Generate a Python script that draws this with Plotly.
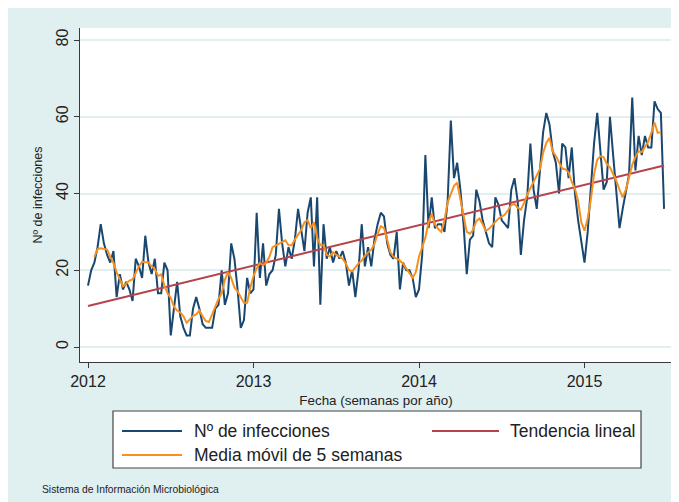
import plotly.graph_objects as go

# ---------------- data ----------------
start_year = 2012
weeks_per_year = 52

# Weekly number of infections, 2012 week 1 onward
infecciones = [16, 20, 22, 26, 32, 27, 24, 22, 25, 13,
               19, 15, 17, 15, 12, 23, 21, 18, 29, 22,
               19, 23, 14, 14, 22, 20, 3, 10, 17, 8,
               5, 3, 3, 10, 13, 10, 6, 5, 5, 5,
               10, 11, 20, 11, 14, 27, 23, 15, 5, 7,
               18, 14, 15, 35, 18, 27, 16, 19, 20, 24,
               36, 27, 21, 26, 23, 28, 36, 30, 25, 35,
               39, 21, 39, 11, 32, 23, 26, 22, 25, 23,
               25, 22, 16, 20, 13, 20, 32, 21, 26, 21,
               28, 32, 35, 34, 27, 24, 23, 30, 15, 22,
               20, 20, 18, 13, 15, 24, 50, 31, 39, 31,
               32, 32, 30, 38, 59, 44, 48, 41, 32, 19,
               28, 29, 41, 38, 33, 30, 27, 26, 39, 37,
               33, 32, 31, 41, 44, 38, 24, 33, 39, 53,
               41, 36, 46, 56, 61, 58, 51, 48, 40, 53,
               52, 44, 52, 40, 33, 27, 22, 30, 42, 53,
               61, 50, 41, 43, 60, 50, 40, 31, 36, 41,
               45, 65, 46, 55, 50, 55, 52, 52, 64, 62,
               61, 36]

# 5-week moving average, as drawn (starts at the third week)
media_offset = 2
media_movil = [23.5, 25.5, 25.7, 25.6, 25.4, 23.5, 21.9, 19.5, 17.5, 15.8,
               16.5, 17.3, 17.6, 19.5, 21, 22.2, 22, 22, 21, 20.3,
               18.5, 18.9, 16, 14, 12.8, 10.5, 9.5, 9, 8, 6.3,
               7.2, 8.1, 8.5, 9.5, 8, 6.8, 6.5, 8.5, 11, 12.5,
               14, 17.5, 19.5, 18, 15.5, 14.5, 13, 11.5, 11.5, 15.5,
               18.5, 20.5, 21.9, 21.3, 22, 23.5, 26, 26.5, 27, 27.5,
               27.8, 26.5, 26.5, 28, 29.2, 30.5, 32.5, 33.1, 31, 32.5,
               28.5, 26.5, 26.5, 24, 23.6, 24.7, 24, 23.5, 23, 21.8,
               20, 19.7, 20.8, 21.8, 22.5, 23.8, 24.6, 25.4, 26.8, 29.5,
               31.5, 31, 28, 24.7, 23.5, 23, 22.5, 21.7, 20.5, 19.5,
               18, 19.5, 23.5, 26, 28.5, 32.5, 34.7, 32, 30.8, 30,
               33, 37.7, 40, 42, 42.8, 38.5, 34.2, 30, 29.5, 30.5,
               32.8, 33.5, 32, 30.3, 30.8, 31.8, 32.5, 33.5, 34, 34.5,
               35.7, 37, 37.3, 36.3, 35.8, 37.5, 39.7, 41.3, 43, 44.6,
               46.4, 50.6, 53.2, 54.5, 51, 49.8, 48, 46.5, 46.3, 45.5,
               43, 41.3, 38, 32.5, 30.3, 33.5, 38.5, 45, 48.8, 49.7,
               49.5, 47.7, 46.8, 45, 43.3, 41, 39, 41, 44.5, 47.5,
               49.5, 51, 50.8, 52.3, 53.5, 55.8, 58.5, 55.8, 56]

# Linear trend: value at first and last week
tendencia = [10.7, 47.3]

year_ticks = [2012, 2013, 2014, 2015]
y_ticks = [0, 20, 40, 60, 80]

series_names = ["Nº de infecciones", "Media móvil de 5 semanas", "Tendencia lineal"]
x_title = "Fecha (semanas por año)"
y_title = "Nº de infecciones"
fuente = "Sistema de Información Microbiológica"

# ---------------- styling ----------------
BLUE = "#1a476f"
ORANGE = "#f7901e"
RED = "#b5434b"
BG = "#e0eff0"
GRID = "#e3eef0"
AXIS = "#3a3a3a"
FONT = "Liberation Sans, Arial, sans-serif"

OFF = 8                      # page body margin
W, H = 671, 494              # figure size (page is 679x502)
ML, MR, MT, MB = 72, 7, 20, 140
PW, PH = W - ML - MR, H - MT - MB


def px(x):                   # page pixel -> paper x
    return (x - OFF - ML) / PW


def py(y):                   # page pixel -> paper y
    return (H - MB - (y - OFF)) / PH


def wx(i):
    return start_year + i / weeks_per_year


x_inf = [wx(i) for i in range(len(infecciones))]
x_mm = [wx(i + media_offset) for i in range(len(media_movil))]
x_tr = [x_inf[0], x_inf[-1]]

fig = go.Figure()
fig.add_trace(go.Scatter(x=x_inf, y=infecciones, mode="lines", name=series_names[0],
                         line=dict(color=BLUE, width=2), showlegend=False))
fig.add_trace(go.Scatter(x=x_tr, y=tendencia, mode="lines", name=series_names[2],
                         line=dict(color=RED, width=2), showlegend=False))
fig.add_trace(go.Scatter(x=x_mm, y=media_movil, mode="lines", name=series_names[1],
                         line=dict(color=ORANGE, width=2), showlegend=False))

# x range: week 0 at 8 px from the plot's left edge, 165.5 px per year
x0 = start_year - 8 / 165.5
x1 = start_year + (PW - 8) / 165.5
# y range: 0 at 15 px above the plot's bottom, 3.8375 px per unit
y0 = -15 / 3.8375
y1 = (PH - 15) / 3.8375

fig.update_layout(
    width=W, height=H,
    margin=dict(l=ML, r=MR, t=MT, b=MB, pad=0, autoexpand=False),
    paper_bgcolor=BG, plot_bgcolor="white",
    font=dict(family=FONT, color="#222222"),
    xaxis=dict(range=[x0, x1], tickmode="array", tickvals=year_ticks, automargin=False,
               ticktext=[str(v) for v in year_ticks],
               showgrid=False, zeroline=False, showline=True, linecolor=AXIS, linewidth=1,
               ticks="outside", ticklen=5, tickcolor=AXIS, tickfont=dict(size=16, color="#222"),
               title=dict(text=x_title, font=dict(size=13.4, color="#222"), standoff=6)),
    yaxis=dict(range=[y0, y1], tickmode="array", tickvals=y_ticks, automargin=False,
               showgrid=True, gridcolor=GRID, gridwidth=1.5, zeroline=False,
               showline=True, linecolor=AXIS, linewidth=1,
               ticks="outside", ticklen=5, tickcolor=AXIS, tickangle=-90,
               tickfont=dict(size=16, color="#222"),
               title=dict(text=y_title, font=dict(size=12.5, color="#222"), standoff=8)),
)

shapes = []
# legend box
shapes.append(dict(type="rect", xref="paper", yref="paper",
                   x0=px(113), x1=px(641), y0=py(468), y1=py(411),
                   fillcolor="white", line=dict(color="#444444", width=1.2)))
legend_items = [(series_names[0], BLUE, 122, 182, 431, 192),
                (series_names[1], ORANGE, 122, 182, 455, 192),
                (series_names[2], RED, 432, 499, 431, 508)]
annotations = []
for name, col, lx0, lx1, ly, tx in legend_items:
    shapes.append(dict(type="line", xref="paper", yref="paper",
                       x0=px(lx0), x1=px(lx1), y0=py(ly), y1=py(ly),
                       line=dict(color=col, width=2)))
    annotations.append(dict(text=name, xref="paper", yref="paper", x=px(tx), y=py(ly),
                            xanchor="left", yanchor="middle", showarrow=False,
                            font=dict(size=17.5, color="#222")))
annotations.append(dict(text=fuente, xref="paper", yref="paper", x=px(40), y=py(490),
                        xanchor="left", yanchor="middle", showarrow=False,
                        font=dict(size=10.3, color="#222")))

fig.update_layout(shapes=shapes, annotations=annotations)
fig.write_html("out.html")
